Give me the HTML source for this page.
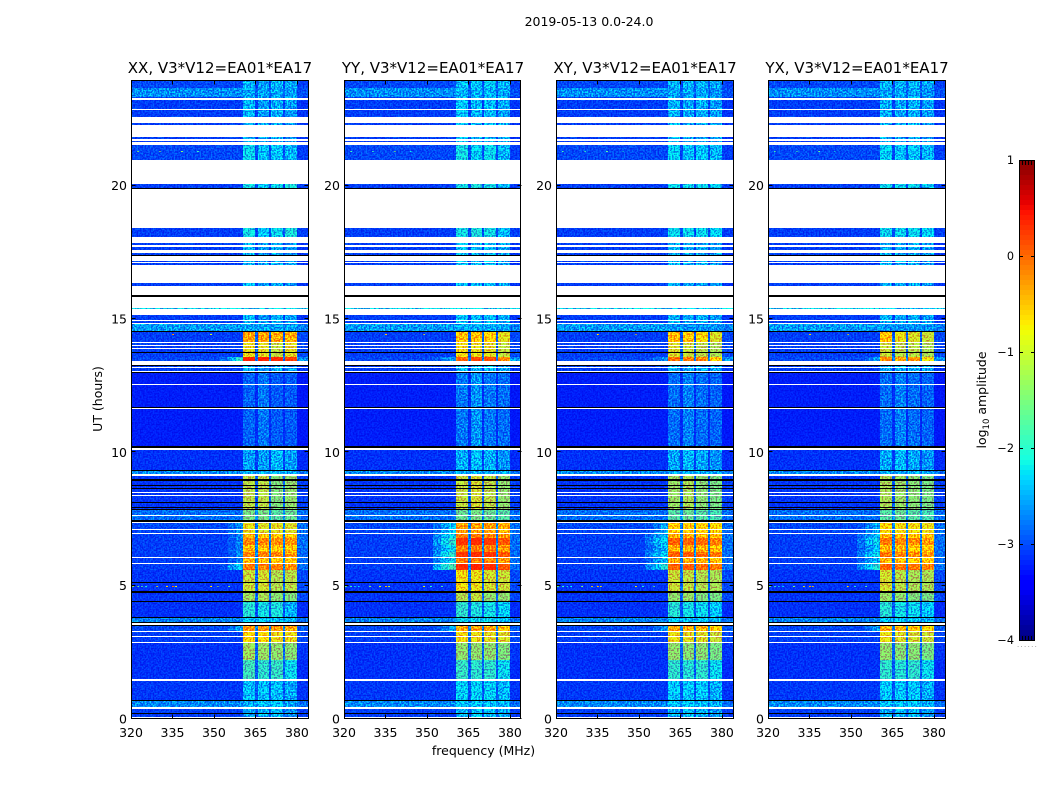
<!DOCTYPE html>
<html lang="en">
<head>
<meta charset="utf-8">
<title>2019-05-13 0.0-24.0</title>
<style>
html,body{margin:0;padding:0;background:#fff;}
#chart{display:block;width:1050px;height:800px;}
text{font-family:"DejaVu Sans","Liberation Sans",sans-serif;fill:#000;}
</style>
</head>
<body>
<svg id="chart" xmlns="http://www.w3.org/2000/svg" width="1050" height="800" viewBox="0 0 1050 800">
  <defs>
    <filter id="speckle" filterUnits="userSpaceOnUse" x="120" y="70" width="840" height="660" color-interpolation-filters="sRGB">
      <feTurbulence type="fractalNoise" baseFrequency="0.62" numOctaves="1" seed="4" result="n"/>
      <feColorMatrix in="n" type="matrix" values="0 0 0 0 0.5  3.5 0 0 0 -1.35  0.3 0 0 0 0.33  0 0 0 0 1" result="g"/>
      <feComposite in="SourceGraphic" in2="g" operator="arithmetic" k1="1" k2="0.5" k3="0" k4="0"/>
    </filter>
  </defs>
  <text x="589" y="26" font-size="12.5" text-anchor="middle">2019-05-13 0.0-24.0</text>
  <text x="483.500" y="755" font-size="12.5" text-anchor="middle">frequency (MHz)</text>
  <text x="0" y="0" font-size="12.5" text-anchor="middle" transform="translate(102,399) rotate(-90)">UT (hours)</text>
  <text x="0" y="0" font-size="12.5" text-anchor="middle" transform="translate(986,400) rotate(-90)">log<tspan font-size="8.5" dy="3">10</tspan><tspan dy="-3"> amplitude</tspan></text>
  <text x="1017" y="647" font-size="7" fill="#888" letter-spacing="1.300" style="fill:#888">......</text>
  <g id="panels"></g>
  <g id="colorbar"></g>
</svg>
<script>
// ---- shared axes data ----
const panelNames = ["XX", "YY", "XY", "YX"];
const baselineLabel = "V3*V12=EA01*EA17";
const xTickValues = [320, 335, 350, 365, 380];
const yTickValues = [0, 5, 10, 15, 20];
const cbarTickValues = [1, 0, -1, -2, -3, -4];
const cbarTickLabels = ["1", "0", "\u22121", "\u22122", "\u22123", "\u22124"];
const freqRange = [320, 384];
const utRange = [0, 23.925];
const cbarRange = [-4, 1];

// column layout (MHz): background, 3 shoulder steps, then sub-bands with gaps and the right edge
const channelEdges = [320, 352, 355, 358, 360.6, 364.9, 365.9, 370.0, 370.7, 375.1, 375.7, 380.0, 384];

// time rows: each spans from its UT down to the next one. w = flagged (blank), k = black
const rowTopUT = [23.925,23.66,23.33,23.29,23.22,22.89,22.83,22.58,22.36,22.29,21.81,21.74,21.67,21.64,21.52,20.96,20.07,19.93,19.90,18.41,18.07,17.85,17.77,17.70,17.58,17.47,17.40,17.37,17.18,17.14,17.10,17.04,16.35,16.24,15.90,15.84,15.40,15.36,15.15,14.98,14.93,14.86,14.82,14.56,14.52,14.13,14.09,14.03,13.99,13.90,13.87,13.78,13.72,13.57,13.43,13.28,13.24,13.19,13.15,13.06,13.01,12.96,12.56,12.52,11.71,11.66,11.62,10.25,10.15,10.10,9.34,9.31,9.19,9.10,9.00,8.92,8.78,8.72,8.66,8.62,8.52,8.46,8.40,8.36,8.14,8.11,7.96,7.92,7.88,7.84,7.65,7.62,7.47,7.40,7.36,7.12,7.09,6.99,6.95,6.79,6.53,6.27,6.09,6.04,5.86,5.81,5.57,5.14,5.11,4.80,4.73,4.44,4.40,3.84,3.82,3.65,3.61,3.54,3.51,3.30,3.26,3.11,3.07,2.89,2.85,2.21,1.49,1.44,0.71,0.68,0.44,0.38,0.21,0.18,0.09,0.05];
const rowKind = ["A","B","C","w","C","w","C","w","C","w","C","w","C","w","C2","w","D","k","w","D","w","C","w","C","w","C","k","w","C","w","C","w","C","w","k","w","cy","w","C","w","C","w","E","k","F","w","G","w","G","w","G","k","G","H","w","k","C","w","C","w","k","I","w","I","k","w","I","k","w","J","k","K","w","L","k","L","k","L","k","L","w","L","w","L","k","L","k","L","k","M","w","M","k","w","N","w","N","w","O1","O2","O1","O2","w","O1","w","O3","P","k","P","k","P2","k","Q","k","R","k","w","k","S","w","T","w","T","w","U","V","w","W","k","X","w","Y","k","Y","w","Y"];

// background levels per row kind: [background, gap, right edge] (log10 amplitude)
const backLevels = {
  A:[-3.0,-3.0,-3.05], B:[-2.62,-2.85,-2.95], C:[-3.05,-3.05,-3.1], C2:[-3.0,-3.0,-3.05],
  D:[-3.05,-3.0,-3.05], cy:[-2.2,-2.2,-2.2], E:[-2.55,-2.6,-2.7], F:[-3.05,-2.9,-3.0],
  G:[-3.05,-2.9,-3.0], H:[-3.0,-2.7,-2.6], I:[-3.22,-3.15,-3.25], J:[-3.12,-3.05,-3.15],
  K:[-2.65,-2.6,-2.75], L:[-3.1,-2.9,-3.05], M:[-2.8,-2.6,-2.8], N:[-3.0,-2.7,-2.8],
  O1:[-3.05,-2.7,-2.8], O2:[-3.05,-2.7,-2.8], O3:[-3.05,-2.7,-2.8], P:[-3.1,-2.8,-3.0],
  P2:[-3.1,-2.85,-3.0], Q:[-3.12,-2.95,-3.15], R:[-2.7,-2.5,-2.8], S:[-3.0,-2.7,-2.9],
  T:[-3.05,-2.8,-3.0], U:[-3.12,-2.85,-3.1], V:[-3.12,-2.9,-3.15], W:[-3.08,-2.95,-3.1],
  X:[-2.65,-2.6,-2.8], Y:[-3.05,-2.95,-3.05]
};

// shoulder steps just below the first sub-band, hot rows only
const shoulderXX = {H:[-2.8,-2.4,-2.0],N:[-3.0,-2.8,-2.6],O1:[-3.05,-2.9,-2.7],O2:[-3.05,-2.9,-2.7],O3:[-2.95,-2.6,-2.3],S:[-3.0,-2.8,-2.5]};
const shoulderYY = {H:[-2.9,-2.7,-2.5],N:[-2.8,-2.55,-2.3],O1:[-2.7,-2.4,-2.2],O2:[-2.6,-2.2,-2.0],O3:[-2.5,-2.1,-1.85],S:[-2.95,-2.7,-2.45]};
const shoulderXY = {H:[-3.0,-2.8,-2.6],N:[-2.95,-2.7,-2.5],O1:[-2.85,-2.6,-2.4],O2:[-2.75,-2.45,-2.25],O3:[-2.7,-2.35,-2.05],S:[-3.0,-2.8,-2.6]};
const shoulderYX = {H:[-3.0,-2.8,-2.6],N:[-2.95,-2.7,-2.5],O1:[-2.85,-2.6,-2.4],O2:[-2.75,-2.4,-2.2],O3:[-2.7,-2.3,-2.05],S:[-3.0,-2.8,-2.6]};

// sub-band levels per row kind
const subbandXX = {
  A:[-2.4,-2.55,-2.4,-2.5],B:[-2.5,-2.5,-2.5,-2.55],C:[-2.4,-2.55,-2.45,-2.55],C2:[-2.2,-2.35,-2.3,-2.4],
  D:[-2.15,-2.3,-2.2,-2.1],cy:[-2.2,-2.2,-2.2,-2.2],E:[-2.5,-2.5,-2.5,-2.5],
  F:[-0.4,-0.4,-0.45,-0.45],G:[-0.85,-0.9,-1.1,-0.9],H:[0.35,0.35,0.3,0.2],
  I:[-2.85,-2.75,-2.9,-2.9],J:[-2.55,-2.55,-2.4,-2.55],K:[-2.4,-2.4,-2.4,-2.45],
  L:[-1.15,-1.15,-1.5,-1.4],M:[-1.55,-1.55,-1.75,-1.65],N:[-0.85,-0.95,-0.9,-0.95],
  O1:[-0.55,-0.55,-0.65,-0.65],O2:[-0.2,-0.2,-0.25,-0.3],O3:[-0.15,-0.2,-0.2,-0.25],
  P:[-1.05,-1.0,-1.2,-1.15],P2:[-1.3,-1.25,-1.45,-1.5],Q:[-2.05,-2.15,-2.1,-2.45],R:[-2.3,-2.3,-2.3,-2.4],
  S:[-0.3,-0.3,-0.3,-0.4],T:[-0.75,-0.75,-0.85,-0.85],U:[-1.3,-1.35,-1.4,-1.45],V:[-1.9,-2.0,-1.95,-2.2],
  W:[-2.35,-2.35,-2.35,-2.5],X:[-2.4,-2.35,-2.3,-2.5],Y:[-2.5,-2.4,-2.4,-2.6]
};
const subbandYY = {
  A:[-2.3,-2.3,-2.25,-2.4],B:[-2.4,-2.4,-2.4,-2.5],C:[-2.3,-2.4,-2.35,-2.5],C2:[-2.15,-2.25,-2.2,-2.4],
  D:[-2.15,-2.1,-2.15,-2.35],cy:[-2.2,-2.2,-2.2,-2.2],E:[-2.45,-2.45,-2.45,-2.5],
  F:[-0.6,-0.6,-0.7,-0.9],G:[-0.8,-0.85,-0.9,-1.1],H:[0.0,0.1,0.1,-0.3],
  I:[-2.75,-2.6,-2.75,-2.8],J:[-2.45,-2.35,-2.45,-2.6],K:[-2.4,-2.4,-2.4,-2.45],
  L:[-1.1,-1.0,-1.15,-1.4],M:[-1.65,-1.55,-1.65,-1.75],N:[-0.35,-0.35,-0.35,-0.45],
  O1:[-0.15,-0.15,-0.2,-0.3],O2:[0.25,0.3,0.25,0.05],O3:[0.3,0.35,0.3,0.05],
  P:[-0.8,-0.85,-1.0,-1.05],P2:[-1.2,-1.1,-1.4,-1.4],Q:[-2.0,-2.1,-2.15,-2.25],R:[-2.2,-2.2,-2.2,-2.3],
  S:[-0.4,-0.4,-0.4,-0.6],T:[-0.8,-0.85,-0.9,-0.95],U:[-1.4,-1.4,-1.4,-1.5],V:[-1.95,-2.0,-2.0,-2.2],
  W:[-2.25,-2.25,-2.25,-2.4],X:[-2.3,-2.3,-2.3,-2.4],Y:[-2.4,-2.3,-2.35,-2.5]
};
const subbandXY = {
  A:[-2.4,-2.4,-2.4,-2.5],B:[-2.5,-2.5,-2.5,-2.6],C:[-2.4,-2.5,-2.45,-2.55],C2:[-2.25,-2.35,-2.3,-2.4],
  D:[-2.2,-2.2,-2.2,-2.25],cy:[-2.3,-2.3,-2.3,-2.3],E:[-2.6,-2.6,-2.6,-2.6],
  F:[-0.55,-0.65,-0.75,-0.95],G:[-0.95,-1.05,-1.15,-1.25],H:[-0.1,-0.2,-0.2,-0.7],
  I:[-2.8,-2.7,-2.8,-2.85],J:[-2.5,-2.4,-2.5,-2.6],K:[-2.45,-2.45,-2.45,-2.5],
  L:[-1.35,-1.25,-1.45,-1.55],M:[-1.75,-1.65,-1.75,-1.85],N:[-0.65,-0.7,-0.7,-0.75],
  O1:[-0.4,-0.45,-0.5,-0.6],O2:[0.0,0.0,-0.05,-0.15],O3:[0.0,0.0,-0.05,-0.15],
  P:[-1.05,-1.1,-1.2,-1.25],P2:[-1.4,-1.35,-1.5,-1.55],Q:[-2.05,-2.15,-2.2,-2.3],R:[-2.3,-2.3,-2.3,-2.4],
  S:[-0.4,-0.45,-0.5,-0.7],T:[-0.85,-0.9,-0.95,-1.05],U:[-1.4,-1.45,-1.45,-1.55],V:[-2.0,-2.05,-2.0,-2.2],
  W:[-2.3,-2.3,-2.3,-2.45],X:[-2.35,-2.3,-2.3,-2.45],Y:[-2.45,-2.35,-2.4,-2.55]
};
const subbandYX = {
  A:[-2.4,-2.4,-2.4,-2.5],B:[-2.5,-2.5,-2.5,-2.6],C:[-2.45,-2.5,-2.45,-2.55],C2:[-2.25,-2.35,-2.3,-2.4],
  D:[-2.2,-2.2,-2.2,-2.25],cy:[-2.3,-2.3,-2.3,-2.3],E:[-2.6,-2.6,-2.6,-2.6],
  F:[-0.6,-0.85,-0.95,-1.05],G:[-1.05,-1.15,-1.15,-1.25],H:[-0.3,-0.4,-0.4,-0.8],
  I:[-2.8,-2.7,-2.8,-2.85],J:[-2.5,-2.4,-2.5,-2.6],K:[-2.45,-2.45,-2.45,-2.5],
  L:[-1.25,-1.35,-1.45,-1.55],M:[-1.75,-1.65,-1.75,-1.85],N:[-0.75,-0.8,-0.8,-0.85],
  O1:[-0.5,-0.55,-0.65,-0.65],O2:[-0.15,-0.2,-0.25,-0.35],O3:[-0.05,-0.1,-0.15,-0.2],
  P:[-1.0,-1.15,-1.25,-1.25],P2:[-1.35,-1.4,-1.5,-1.55],Q:[-2.05,-2.15,-2.2,-2.3],R:[-2.3,-2.3,-2.3,-2.4],
  S:[-0.5,-0.55,-0.6,-0.75],T:[-0.85,-0.95,-1.0,-1.05],U:[-1.4,-1.45,-1.45,-1.55],V:[-2.0,-2.05,-2.0,-2.2],
  W:[-2.3,-2.3,-2.3,-2.45],X:[-2.35,-2.3,-2.3,-2.45],Y:[-2.45,-2.35,-2.4,-2.55]
};

// bright narrow interference specks
const rfiFreq = [320.5,322,323.5,325,329,332.5,334.8,336,348.5,351,355,334.8,348.5,322,330,338,344];
const rfiUT = [4.97,4.97,4.97,4.97,4.97,4.97,4.97,4.97,4.97,4.97,4.97,14.44,14.44,21.3,21.3,21.3,21.3];
const rfiValue = [-1.4,-1.6,-1.9,-2.1,-1.2,-0.7,-0.1,-0.8,-0.6,-1.7,-1.5,-0.3,-1.0,-1.6,-1.7,-1.4,-1.9];

const panelSubbands = [subbandXX, subbandYY, subbandXY, subbandYX];
const panelShoulders = [shoulderXX, shoulderYY, shoulderXY, shoulderYX];
const panelLeft = [131, 344, 556, 768];

// ---- rendering ----
const NS = "http://www.w3.org/2000/svg";
const PANEL_W = 177, PANEL_TOP = 81, PANEL_H = 638;

function jet(t) {
  t = Math.max(0, Math.min(1, t));
  function seg(stops) {
    for (let i = 1; i < stops.length; i++) {
      if (t <= stops[i][0]) {
        const a = stops[i - 1], b = stops[i];
        return a[1] + (b[1] - a[1]) * (t - a[0]) / (b[0] - a[0]);
      }
    }
    return stops[stops.length - 1][1];
  }
  const r = seg([[0,0],[0.35,0],[0.66,1],[0.89,1],[1,0.5]]);
  const g = seg([[0,0],[0.125,0],[0.375,1],[0.64,1],[0.91,0],[1,0]]);
  const b = seg([[0,0.5],[0.11,1],[0.34,1],[0.65,0],[1,0]]);
  return "rgb(" + Math.round(r * 255) + "," + Math.round(g * 255) + "," + Math.round(b * 255) + ")";
}
function valueColor(v) { return jet((v - cbarRange[0]) / (cbarRange[1] - cbarRange[0])); }
function yScale(ut) { return PANEL_TOP + PANEL_H * (utRange[1] - ut) / (utRange[1] - utRange[0]); }
function xScale(f, left) { return left + PANEL_W * (f - freqRange[0]) / (freqRange[1] - freqRange[0]); }
function cbarY(v) { return 160 + 480 * (cbarRange[1] - v) / (cbarRange[1] - cbarRange[0]); }

function make(tag, parent) {
  const el = document.createElementNS(NS, tag);
  parent.appendChild(el);
  return el;
}
function line(parent, x1, y1, x2, y2, name) {
  const l = make("line", parent);
  l.setAttribute("x1", x1); l.setAttribute("y1", y1);
  l.setAttribute("x2", x2); l.setAttribute("y2", y2);
  l.setAttribute("stroke", "#000");
  l.setAttribute("stroke-width", "1");
  
  
  return l;
}
function label(parent, x, y, str, size, anchor, name) {
  const t = make("text", parent);
  t.setAttribute("x", x); t.setAttribute("y", y);
  t.setAttribute("font-size", size);
  t.setAttribute("text-anchor", anchor);
  t.textContent = str;
  
  
  return t;
}

function cellValues(kind, subs, shoulders) {
  const back = backLevels[kind];
  const sb = subs[kind];
  const sh = shoulders[kind] || [back[0], back[0], back[0]];
  return [back[0], sh[0], sh[1], sh[2], sb[0], back[1], sb[1], back[1], sb[2], back[1], sb[3], back[2]];
}

function drawPanel(p) {
  const root = document.getElementById("panels");
  const left = panelLeft[p];
  const g = make("g", root);
  
  

  const cells = make("g", g);
  cells.setAttribute("filter", "url(#speckle)");
  cells.setAttribute("shape-rendering", "crispEdges");
  
  

  for (let r = 0; r < rowKind.length; r++) {
    const kind = rowKind[r];
    if (kind === "w" || kind === "k") continue;
    const top = Math.round(yScale(rowTopUT[r]));
    const nextUT = r + 1 < rowTopUT.length ? rowTopUT[r + 1] : utRange[0];
    const h = Math.round(yScale(nextUT)) - top;
    const vals = cellValues(kind, panelSubbands[p], panelShoulders[p]);
    for (let c = 0; c < vals.length; c++) {
      const x0 = left + Math.round(xScale(channelEdges[c], 0));
      const x1 = left + Math.round(xScale(channelEdges[c + 1], 0));
      const rect = make("rect", cells);
      rect.setAttribute("x", x0);
      rect.setAttribute("y", top);
      rect.setAttribute("width", x1 - x0);
      rect.setAttribute("height", h);
      rect.setAttribute("fill", valueColor(vals[c]));
      
      
    }
  }
  for (let i = 0; i < rfiFreq.length; i++) {
    const rect = make("rect", cells);
    rect.setAttribute("x", Math.round(xScale(rfiFreq[i], left)));
    rect.setAttribute("y", Math.round(yScale(rfiUT[i])));
    rect.setAttribute("width", "2");
    rect.setAttribute("height", "1");
    rect.setAttribute("fill", valueColor(rfiValue[i] - (p === 0 ? 0 : 0.3)));
    
    
  }
  // black rows sit above the speckled layer
  for (let r = 0; r < rowKind.length; r++) {
    if (rowKind[r] !== "k") continue;
    const top = Math.round(yScale(rowTopUT[r]));
    const nextUT = rowTopUT[r + 1];
    const rect = make("rect", g);
    rect.setAttribute("x", left);
    rect.setAttribute("y", top);
    rect.setAttribute("width", PANEL_W);
    rect.setAttribute("height", Math.max(1, Math.round(yScale(nextUT)) - top));
    rect.setAttribute("fill", "#000");
    
    
  }

  const frame = make("rect", g);
  frame.setAttribute("x", left + 0.5);
  frame.setAttribute("y", PANEL_TOP - 0.5);
  frame.setAttribute("width", PANEL_W - (p === 1 ? 1 : 0));
  frame.setAttribute("height", PANEL_H);
  frame.setAttribute("fill", "none");
  frame.setAttribute("stroke", "#000");
  frame.setAttribute("stroke-width", "1");
  
  

  xTickValues.forEach(function (v) {
    const x = Math.round(xScale(v, left)) + 0.5;
    line(g, x, PANEL_TOP + PANEL_H - 0.5, x, PANEL_TOP + PANEL_H - 4.5, "x-tick");
    line(g, x, PANEL_TOP - 0.5, x, PANEL_TOP + 3.5, "x-tick-top");
    label(g, xScale(v, left), 737, String(v), 12.5, "middle", "x-tick-label");
  });
  yTickValues.forEach(function (v) {
    const y = Math.round(yScale(v)) - 0.5;
    line(g, left, y, left + 4.5, y, "y-tick");
    line(g, left + PANEL_W - 3.5, y, left + PANEL_W + 0.5, y, "y-tick-right");
    label(g, left - 4, yScale(v) + 4.5, String(v), 12.5, "end", "y-tick-label");
  });
  label(g, left + 89, 73, panelNames[p] + ", " + baselineLabel, 15, "middle", "panel-title");
}

function drawColorbar() {
  const g = document.getElementById("colorbar");
  const steps = 96;
  for (let i = 0; i < steps; i++) {
    const v0 = cbarRange[1] - (cbarRange[1] - cbarRange[0]) * i / steps;
    const v1 = cbarRange[1] - (cbarRange[1] - cbarRange[0]) * (i + 1) / steps;
    const rect = make("rect", g);
    rect.setAttribute("x", 1019);
    rect.setAttribute("y", cbarY(v0).toFixed(2));
    rect.setAttribute("width", 16);
    rect.setAttribute("height", (cbarY(v1) - cbarY(v0) + 0.1).toFixed(2));
    rect.setAttribute("fill", valueColor((v0 + v1) / 2));
    
    
  }
  const frame = make("rect", g);
  frame.setAttribute("x", 1019.5);
  frame.setAttribute("y", 160.5);
  frame.setAttribute("width", 15);
  frame.setAttribute("height", 480);
  frame.setAttribute("fill", "none");
  frame.setAttribute("stroke", "#000");
  
  
  cbarTickValues.forEach(function (v, i) {
    const y = Math.round(cbarY(v)) + 0.5;
    line(g, 1019, y, 1023, y, "colorbar-tick");
    line(g, 1031, y, 1035, y, "colorbar-tick-right");
    label(g, 1014, cbarY(v) + 4, cbarTickLabels[i], 11.25, "end", "colorbar-tick-label");
  });
  [1022, 1025, 1028, 1031].forEach(function (x) {
    line(g, x + 0.5, 160, x + 0.5, 165, "colorbar-minor-tick");
    line(g, x + 0.5, 636, x + 0.5, 640, "colorbar-minor-tick");
  });
}

for (let p = 0; p < panelNames.length; p++) drawPanel(p);
drawColorbar();
</script>
</body>
</html>
